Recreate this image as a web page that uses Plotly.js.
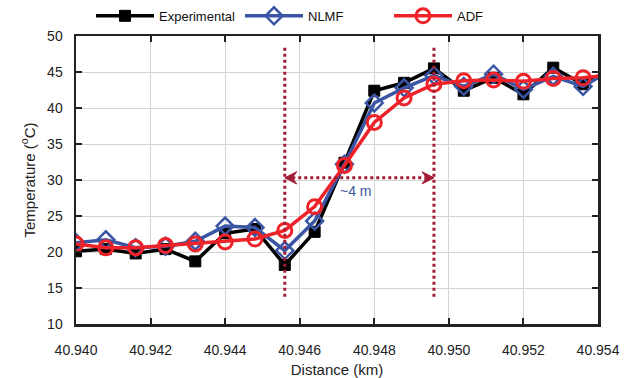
<!DOCTYPE html>
<html><head><meta charset="utf-8">
<script src="https://cdn.plot.ly/plotly-3.0.1.min.js"></script>
<style>body{margin:0;background:#fff}</style>
</head><body><div id="chart" style="width:629px;height:378px"></div>
<script>
// ---- data ----
const distance = [40.9400, 40.9408, 40.9416, 40.9424, 40.9432, 40.9440, 40.9448, 40.9456, 40.9464, 40.9472,
                  40.9480, 40.9488, 40.9496, 40.9504, 40.9512, 40.9520, 40.9528, 40.9536, 40.9544];
const experimental = [20.1, 20.4, 19.8, 20.4, 18.7, 22.6, 23.2, 18.2, 22.8, 32.4,
                      42.4, 43.5, 45.5, 42.4, 44.2, 41.9, 45.6, 43.3, 45.5];
const nlmf = [21.3, 21.7, 20.6, 20.8, 21.5, 23.6, 23.4, 20.2, 24.3, 32.2,
              40.7, 42.8, 44.5, 43.0, 44.7, 42.6, 44.4, 43.0, 45.4];
const adf = [21.1, 20.6, 20.6, 20.9, 21.1, 21.4, 21.8, 23.0, 26.3, 32.0,
             38.0, 41.4, 43.3, 43.8, 43.9, 43.7, 44.1, 44.2, 44.6];
const xTicks = [40.940, 40.942, 40.944, 40.946, 40.948, 40.950, 40.952, 40.954];
const xTickLabels = ['40.940', '40.942', '40.944', '40.946', '40.948', '40.950', '40.952', '40.954'];
const yTicks = [10, 15, 20, 25, 30, 35, 40, 45, 50];

// ---- annotation geometry ----
const leftEdge = 40.9456, rightEdge = 40.9496;
const markerLow = 13.8, markerHigh = 48.6;
const arrowY = 30.3;
const headLen = 0.00032, headNotch = 0.0002, headHalf = 0.85;
const arrowLabel = {x: 40.9475, y: 28.5, text: '~4 m'};

const dark = '#a31c35';
const traces = [
  {x: distance, y: experimental, name: 'Experimental', mode: 'lines+markers',
   line: {color: '#000000', width: 3.5},
   marker: {symbol: 'square', size: 11, color: '#000000', line: {color: '#000000', width: 1}}},
  {x: distance, y: nlmf, name: 'NLMF', mode: 'lines+markers',
   line: {color: '#3a55a4', width: 3.5},
   marker: {symbol: 'diamond-open', size: 13, color: '#3a55a4', line: {color: '#3a55a4', width: 2.5}}},
  {x: distance, y: adf, name: 'ADF', mode: 'lines+markers',
   line: {color: '#ee2229', width: 3.5},
   marker: {symbol: 'circle-open', size: 14, color: '#ee2229', line: {color: '#ee2229', width: 3}}}
];

function head(tip, dir) {
  const b = tip + dir * headLen, n = tip + dir * headNotch;
  return `M${tip},${arrowY} L${b},${arrowY + headHalf} L${n},${arrowY} L${b},${arrowY - headHalf} Z`;
}

const font = {family: 'Liberation Sans, Arial, sans-serif', color: '#222', size: 14};
const layout = {
  width: 629, height: 378,
  margin: {l: 76, r: 31, t: 36, b: 54},
  paper_bgcolor: '#fff', plot_bgcolor: '#fff',
  font: font,
  showlegend: true,
  legend: {orientation: 'h', x: 0.5, xanchor: 'center', xref: 'container', yref: 'container',
           y: 0.958, yanchor: 'middle', itemwidth: 58, entrywidth: 76,
           font: {family: font.family, size: 13, color: '#111'}, bgcolor: 'rgba(0,0,0,0)'},
  xaxis: {range: [40.940, 40.954], tickvals: xTicks, ticktext: xTickLabels,
          showgrid: true, gridcolor: '#d4d4d4', gridwidth: 1, zeroline: false,
          showline: true, linecolor: '#222', linewidth: 2.5, mirror: 'ticks',
          ticks: 'inside', ticklen: 6, tickwidth: 2, tickcolor: '#222', ticklabelstandoff: 12,
          title: {text: 'Distance (km)', font: {size: 15}}, automargin: false},
  yaxis: {range: [10, 50], tickvals: yTicks,
          showgrid: true, gridcolor: '#d4d4d4', gridwidth: 1, zeroline: false,
          showline: true, linecolor: '#222', linewidth: 2.5, mirror: 'ticks',
          ticks: 'inside', ticklen: 6, tickwidth: 2, tickcolor: '#222', ticklabelstandoff: 8,
          title: {text: 'Temperature (<sup>o</sup>C)', font: {size: 15}}, automargin: false},
  shapes: [
    {type: 'line', xref: 'x', yref: 'y', x0: leftEdge, x1: leftEdge, y0: markerLow, y1: markerHigh,
     line: {color: dark, width: 3, dash: 'dot'}},
    {type: 'line', xref: 'x', yref: 'y', x0: rightEdge, x1: rightEdge, y0: markerLow, y1: markerHigh,
     line: {color: dark, width: 3, dash: 'dot'}},
    {type: 'line', xref: 'x', yref: 'y', x0: leftEdge + headNotch, x1: rightEdge - headNotch, y0: arrowY, y1: arrowY,
     line: {color: dark, width: 3, dash: 'dot'}},
    {type: 'path', xref: 'x', yref: 'y', path: head(leftEdge, 1), fillcolor: dark, line: {color: dark, width: 1}},
    {type: 'path', xref: 'x', yref: 'y', path: head(rightEdge, -1), fillcolor: dark, line: {color: dark, width: 1}}
  ],
  annotations: [
    {x: arrowLabel.x, y: arrowLabel.y, xref: 'x', yref: 'y', text: arrowLabel.text, showarrow: false,
     font: {family: font.family, size: 14, color: '#3a55a4'}}
  ]
};
Plotly.newPlot('chart', traces, layout, {displayModeBar: false, staticPlot: true});
</script>
</body></html>
